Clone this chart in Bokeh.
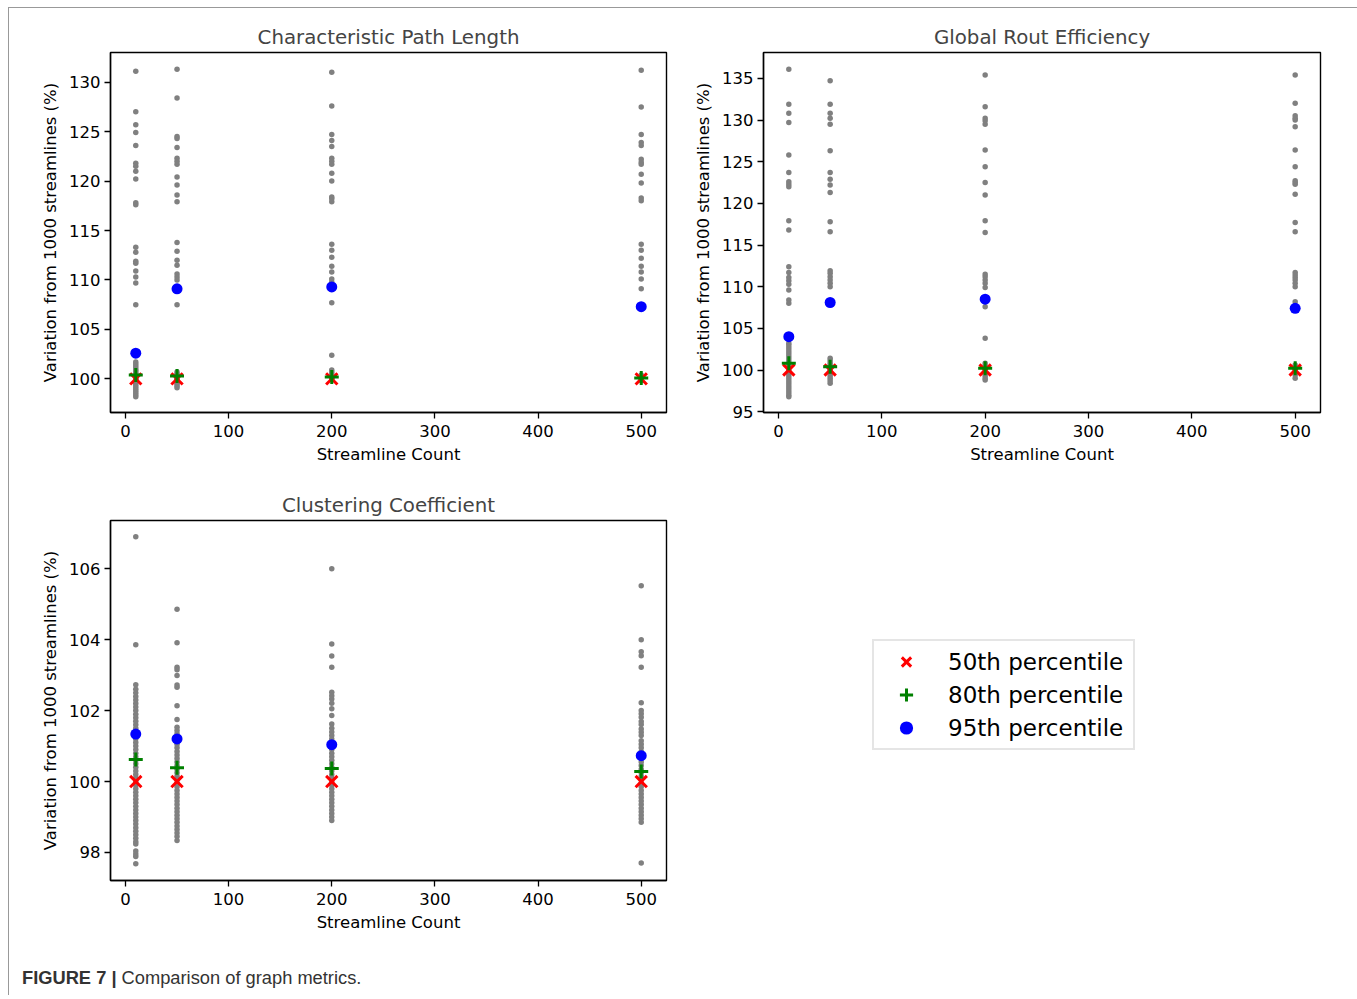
from bokeh.plotting import figure
from bokeh.models import Range1d, FixedTicker, Legend, LegendItem, ColumnDataSource, Div
from bokeh.layouts import column, row
from bokeh.embed import file_html
from bokeh.resources import INLINE

# ---------------- data ----------------
x_counts = [10, 50, 200, 500]
x_ticks = [0, 100, 200, 300, 400, 500]

titles = ["Characteristic Path Length", "Global Rout Efficiency", "Clustering Coefficient"]
x_label = "Streamline Count"
y_label = "Variation from 1000 streamlines (%)"
legend_labels = ["50th percentile", "80th percentile", "95th percentile"]
caption_bold = "FIGURE 7 |"
caption_text = "Comparison of graph metrics."

# Characteristic Path Length
cpl_gray_10 = [131.1, 127.0, 125.7, 124.9, 123.6, 121.8, 121.5, 121.0, 120.2, 117.8, 117.6,
               113.3, 112.8, 111.9, 111.7, 110.9, 110.3, 109.7, 107.5,
               101.7, 101.5, 101.3, 101.1, 100.9, 100.8, 100.6, 100.5, 100.4, 100.3, 100.2,
               100.1, 100.0, 99.9, 99.8, 99.7, 99.6, 99.4, 99.2, 99.0, 98.8, 98.6, 98.4, 98.2]
cpl_gray_50 = [131.3, 128.4, 124.5, 124.3, 123.4, 122.3, 122.0, 121.7, 120.4, 119.6, 118.6,
               117.9, 113.8, 112.9, 112.0, 111.5, 110.6, 110.3, 110.0, 107.5,
               100.7, 100.5, 100.4, 100.3, 100.2, 100.1, 100.0, 99.9, 99.8, 99.7, 99.5, 99.3, 99.1]
cpl_gray_200 = [131.0, 127.6, 124.7, 124.1, 123.5, 122.3, 122.0, 121.7, 120.8, 120.0, 118.4,
                118.2, 117.9, 113.6, 113.0, 112.3, 111.4, 110.8, 110.1, 109.8, 107.7, 102.4,
                100.9, 100.7, 100.5, 100.3, 100.2, 100.1, 100.0, 99.9]
cpl_gray_500 = [131.2, 127.5, 124.7, 123.9, 123.6, 122.2, 121.9, 121.7, 120.7, 119.8, 118.3,
                118.0, 113.6, 113.0, 112.2, 111.4, 110.8, 110.1, 109.1,
                100.4, 100.2, 100.1, 100.0, 99.9, 99.8]
cpl_p50 = [100.0, 100.0, 100.0, 100.0]
cpl_p80 = [100.4, 100.3, 100.2, 100.1]
cpl_p95 = [102.6, 109.1, 109.3, 107.3]

# Global Rout Efficiency
gre_gray_10 = [136.1, 131.9, 130.8, 129.7, 125.8, 123.7, 122.6, 122.3, 122.0, 117.9, 116.8,
               112.4, 111.7, 111.1, 110.7, 110.3, 109.6, 108.4, 108.0,
               103.2, 103.0, 102.7, 102.4, 102.1, 101.8, 101.5, 101.2, 100.9, 100.6, 100.3,
               100.0, 99.7, 99.4, 99.1, 98.8, 98.5, 98.2, 97.9, 97.6, 97.3, 97.0, 96.8]
gre_gray_50 = [134.7, 131.9, 130.8, 130.2, 129.5, 126.3, 123.7, 122.9, 122.2, 121.3, 117.8,
               116.6, 111.9, 111.6, 111.2, 110.8, 110.4, 110.0,
               101.4, 101.1, 100.8, 100.5, 100.2, 99.9, 99.6, 99.3, 99.0, 98.7, 98.4]
gre_gray_200 = [135.4, 131.6, 130.2, 129.9, 129.5, 126.4, 124.4, 122.5, 121.0, 117.9, 116.5,
                111.5, 111.2, 110.8, 110.4, 109.9, 107.6, 103.8,
                100.8, 100.5, 100.2, 99.9, 99.6, 99.3, 99.0, 98.8]
gre_gray_500 = [135.4, 132.0, 130.5, 130.2, 130.0, 129.2, 126.4, 124.4, 122.7, 122.5, 122.3,
                121.1, 117.7, 116.6, 111.7, 111.4, 111.1, 110.8, 110.4, 110.0, 108.2,
                100.6, 100.3, 100.0, 99.7, 99.4, 99.0]
gre_p50 = [100.0, 100.0, 100.0, 100.0]
gre_p80 = [100.8, 100.4, 100.2, 100.2]
gre_p95 = [104.0, 108.1, 108.5, 107.4]

# Clustering Coefficient
cc_gray_10 = [106.9, 103.86, 102.73, 102.6, 102.5, 102.4, 102.3, 102.2, 102.1, 102.0, 101.9,
              101.8, 101.7, 101.6, 101.5, 101.4, 101.3, 101.2, 101.1, 101.0, 100.9, 100.8,
              100.7, 100.6, 100.5, 100.4, 100.3, 100.2, 100.1, 100.0, 99.9, 99.8, 99.7, 99.6,
              99.5, 99.4, 99.3, 99.2, 99.1, 99.0, 98.9, 98.8, 98.7, 98.6, 98.5, 98.4, 98.3,
              98.24, 98.04, 97.96, 97.89, 97.68]
cc_gray_50 = [104.86, 103.91, 103.22, 103.15, 102.99, 102.72, 102.66, 102.14, 101.75, 101.53,
              101.44, 101.35, 101.25, 101.15, 101.05, 100.95, 100.85, 100.75, 100.65, 100.55,
              100.45, 100.35, 100.25, 100.15, 100.05, 99.95, 99.85, 99.75, 99.65, 99.55,
              99.45, 99.35, 99.25, 99.15, 99.05, 98.95, 98.85, 98.75, 98.65, 98.55, 98.45, 98.34]
cc_gray_200 = [106.0, 103.88, 103.54, 103.22, 102.52, 102.42, 102.33, 102.21, 102.05, 101.86,
               101.62, 101.5, 101.4, 101.3, 101.2, 101.1, 101.0, 100.9, 100.8, 100.7, 100.6,
               100.5, 100.4, 100.3, 100.2, 100.1, 100.0, 99.9, 99.8, 99.7, 99.6, 99.5, 99.4,
               99.3, 99.2, 99.1, 99.0, 98.9]
cc_gray_500 = [105.52, 104.0, 103.66, 103.55, 103.22, 102.22, 102.0, 101.91, 101.81, 101.69,
               101.61, 101.48, 101.39, 101.30, 101.15, 101.05, 100.95, 100.85, 100.75, 100.65,
               100.55, 100.45, 100.35, 100.25, 100.15, 100.05, 99.95, 99.85, 99.75, 99.65,
               99.55, 99.45, 99.35, 99.25, 99.15, 99.05, 98.95, 98.85, 97.70]
cc_p50 = [100.0, 100.0, 100.0, 100.0]
cc_p80 = [100.62, 100.39, 100.37, 100.28]
cc_p95 = [101.34, 101.2, 101.04, 100.73]

FONT = "DejaVu Sans"
MARKERS = [dict(marker="x", size=16, line_color="red", line_width=3),
           dict(marker="cross", size=14, line_color="green", line_width=3),
           dict(marker="circle", size=11, fill_color="blue", line_color=None)]


def gray_source(cols):
    xs, ys = [], []
    for xv, vals in zip(x_counts, cols):
        xs += [xv] * len(vals)
        ys += list(vals)
    return ColumnDataSource(dict(x=xs, y=ys))


def make_panel(title, cols, p50, p80, p95, y_range, y_ticks, width, height,
               bl, br, bt, bb):
    p = figure(width=width, height=height, output_backend="svg", toolbar_location=None,
               x_range=Range1d(-14.5, 524.5), y_range=Range1d(*y_range),
               min_border_left=bl, min_border_right=br, min_border_top=bt,
               min_border_bottom=bb, title=title)
    p.title.text_font = FONT
    p.title.text_font_size = "19.8px"
    p.title.text_font_style = "normal"
    p.title.align = "center"
    p.title.standoff = 7
    p.grid.visible = False
    p.outline_line_color = "black"
    p.outline_line_width = 1.4
    p.background_fill_color = "white"
    p.border_fill_color = "white"

    p.xaxis.ticker = FixedTicker(ticks=x_ticks, minor_ticks=[])
    p.yaxis.ticker = FixedTicker(ticks=y_ticks, minor_ticks=[])
    p.xaxis.axis_label = x_label
    p.yaxis.axis_label = y_label
    for ax in (p.xaxis[0], p.yaxis[0]):
        ax.major_tick_out = 6
        ax.major_tick_in = 0
        ax.minor_tick_out = 0
        ax.minor_tick_in = 0
        ax.axis_line_width = 1.4
        ax.major_tick_line_width = 1.3
        ax.major_label_text_font = FONT
        ax.major_label_text_font_size = "16.5px"
        ax.major_label_text_color = "black"
        ax.axis_label_text_font = FONT
        ax.axis_label_text_font_size = "16.5px"
        ax.axis_label_text_font_style = "normal"
        ax.axis_label_text_color = "black"
        ax.major_label_standoff = 4
        ax.axis_label_standoff = 6
    p.xaxis[0].major_label_standoff = 6
    p.xaxis[0].axis_label_standoff = 5

    p.scatter("x", "y", source=gray_source(cols), size=5.5, color="gray", line_color=None)
    for vals, kw in zip((p50, p80, p95), MARKERS):
        p.scatter(x_counts, vals, **kw)
    return p


p1 = make_panel(titles[0], [cpl_gray_10, cpl_gray_50, cpl_gray_200, cpl_gray_500],
                cpl_p50, cpl_p80, cpl_p95, (96.6, 133.0),
                [100, 105, 110, 115, 120, 125, 130],
                671, 478, 101, 14, 44, 74)
p2 = make_panel(titles[1], [gre_gray_10, gre_gray_50, gre_gray_200, gre_gray_500],
                gre_p50, gre_p80, gre_p95, (94.9, 138.1),
                [95, 100, 105, 110, 115, 120, 125, 130, 135],
                670, 478, 83, 30, 44, 74)
p3 = make_panel(titles[2], [cc_gray_10, cc_gray_50, cc_gray_200, cc_gray_500],
                cc_p50, cc_p80, cc_p95, (97.21, 107.36), [98, 100, 102, 104, 106],
                671, 454, 101, 14, 34, 60)

# legend panel: key renderers use the percentile series, kept outside the visible range
pl = figure(width=670, height=454, output_backend="svg", toolbar_location=None,
            x_range=Range1d(-2, -1), y_range=Range1d(0, 1),
            x_axis_location=None, y_axis_location=None,
            min_border=0, min_border_left=0, min_border_right=0,
            min_border_top=0, min_border_bottom=0)
pl.grid.visible = False
pl.outline_line_color = None
keys = [pl.scatter(x_counts, vals, **kw) for vals, kw in zip((cc_p50, cc_p80, cc_p95), MARKERS)]
legend = Legend(items=[LegendItem(label=lab, renderers=[r], index=0)
                       for lab, r in zip(legend_labels, keys)],
                location=(192, 130), orientation="vertical",
                glyph_width=56, glyph_height=33, label_height=33, spacing=0,
                label_width=181, padding=4, margin=0, label_standoff=14,
                label_text_font=FONT, label_text_font_size="23px",
                label_text_color="black",
                border_line_color="#cccccc", border_line_width=2,
                background_fill_color="white", background_fill_alpha=1)
pl.add_layout(legend)

caption = Div(text=('<div style="font-family:\'Liberation Sans\',Arial,sans-serif;'
                    'font-size:18.3px;color:#333;padding:20px 0 0 8px;white-space:nowrap;">'
                    '<b>' + caption_bold + '</b> ' + caption_text + '</div>'),
              width=1341, height=45)

layout = column(row(p1, p2), row(p3, pl), caption, margin=(7, 0, 0, 8),
                styles={"border-top": "1px solid #999", "border-left": "1px solid #999",
                        "border-right": "1px solid #999"})

open("out.html", "w").write(file_html(layout, INLINE))
